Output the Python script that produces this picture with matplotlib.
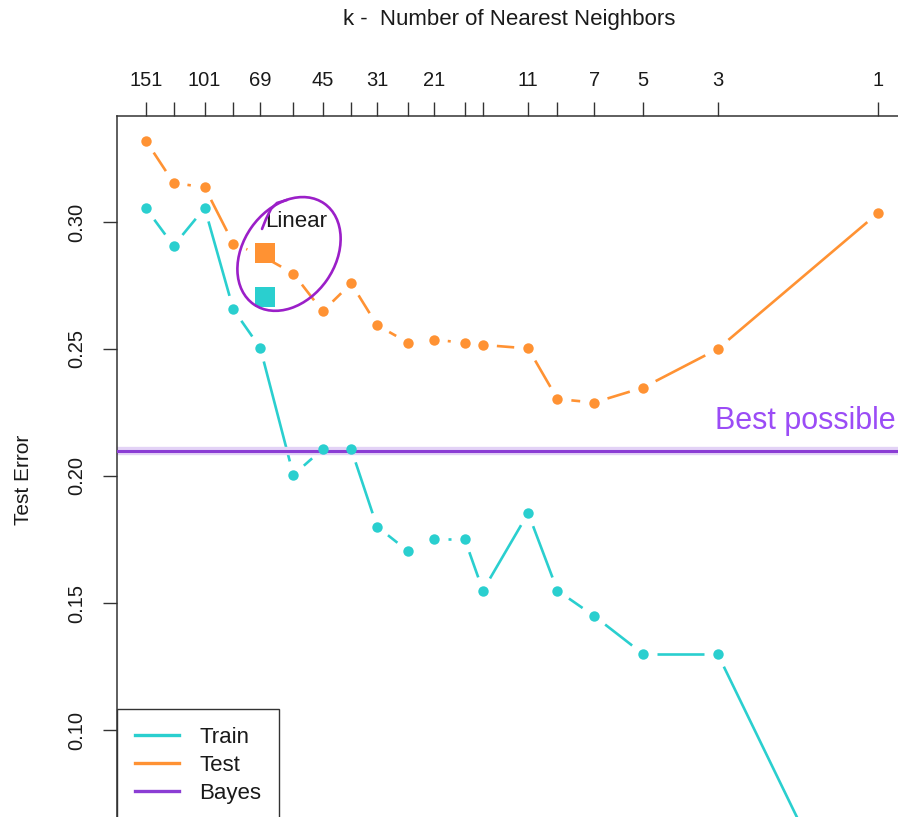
import numpy as np
import matplotlib
matplotlib.use('Agg')
import matplotlib.pyplot as plt
from matplotlib.collections import LineCollection
from matplotlib.lines import Line2D
from matplotlib.patches import Ellipse
from matplotlib.transforms import IdentityTransform, ScaledTranslation
from matplotlib.ticker import NullLocator

plt.rcParams['font.family'] = ['Liberation Sans', 'DejaVu Sans']

# data
N = 200
k_vals = [151, 125, 101, 83, 69, 55, 45, 37, 31, 25, 21, 17, 15, 11, 9, 7, 5, 3, 1]
k_shown = [151, 101, 69, 45, 31, 21, 11, 7, 5, 3, 1]
test_err = [0.3319, 0.3154, 0.3136, 0.2915, 0.2870, 0.2797, 0.2648, 0.2758, 0.2594,
            0.2524, 0.2537, 0.2524, 0.2516, 0.2502, 0.2303, 0.2289, 0.2348, 0.2500, 0.3035]
train_err = [0.3053, 0.2906, 0.3055, 0.2656, 0.2504, 0.2004, 0.2106, 0.2106, 0.1801,
             0.1703, 0.1752, 0.1752, 0.1549, 0.1854, 0.1549, 0.1449, 0.1299, 0.1299, 0.0]
bayes_err = 0.21
linear_dof = 3
linear_test = 0.2878
linear_train = 0.2703
y_ticks = [0.10, 0.15, 0.20, 0.25, 0.30]

c_train = '#2ACFCF'
c_test = '#FF9233'
c_bayes = '#8B3DD4'
c_mark = '#9B1FC8'
c_text = '#1a1a1a'

fig = plt.figure(figsize=(8.98, 8.17), dpi=100)
ax = fig.add_axes([117/898, -5/817, 790/898, 706/817])
ax.set_xscale('log')
ax.set_xlim(1.0857, 243.98)
ax.set_ylim(0.0638, 0.3417)

dof = N / np.array(k_vals, dtype=float)


def gapped(ax, x, y, color, gap=14, lw=1.9):
    # lines that stop short of the points, like R's type="b"
    pts = ax.transData.transform(np.column_stack([x, y]))
    segs = []
    for p0, p1 in zip(pts[:-1], pts[1:]):
        d = p1 - p0
        L = np.hypot(d[0], d[1])
        if L > 2 * gap + 1:
            u = d / L
            segs.append([p0 + u * gap, p1 - u * gap])
    lc = LineCollection(segs, colors=color, linewidths=lw,
                        transform=IdentityTransform(), zorder=2, capstyle='butt')
    ax.add_collection(lc, autolim=False)


ax.axhline(bayes_err, color='#E3D3F6', lw=6, zorder=2.5)
ax.axhline(bayes_err, color=c_bayes, lw=2.2, zorder=2.6)

gapped(ax, dof, test_err, c_test)
gapped(ax, dof, train_err, c_train)
ax.plot(dof, test_err, 'o', color=c_test, ms=7.5, mew=0, zorder=3)
ax.plot(dof, train_err, 'o', color=c_train, ms=7.5, mew=0, zorder=3)

ax.plot([linear_dof], [linear_test], 's', color=c_test, ms=14.5, mew=0, zorder=4)
ax.plot([linear_dof], [linear_train], 's', color=c_train, ms=14.5, mew=0, zorder=4)
ax.text(linear_dof, 0.30, 'Linear', fontsize=16, ha='left', va='center',
        color=c_text, zorder=5)

# hand-drawn circle round the linear points
trans = fig.dpi_scale_trans + ScaledTranslation(3.53, 0.2874, ax.transData)
ax.add_patch(Ellipse((0, 0), 1.23, 0.92, angle=55, fill=False, ec=c_mark,
                     lw=1.9, transform=trans, zorder=6))
ax.plot([-0.27, -0.23, -0.18, -0.12, -0.02], [0.25, 0.35, 0.45, 0.51, 0.54],
        color=c_mark, lw=1.9, transform=trans, zorder=6, solid_capstyle='round')

# axes
ax.xaxis.tick_top()
ax.set_xticks(dof)
ax.set_xticklabels([str(k) if k in k_shown else '' for k in k_vals])
ax.xaxis.set_minor_locator(NullLocator())
ax.set_yticks(y_ticks)
ax.set_yticklabels(['%.2f' % v for v in y_ticks])
for lab in ax.get_yticklabels():
    lab.set_rotation(90)
    lab.set_va('center')
ax.tick_params(axis='x', length=10, width=1, color='#333333', pad=9,
               labelsize=14.5, labelcolor=c_text)
ax.tick_params(axis='y', length=10, width=1, color='#333333', pad=12,
               labelsize=14.5, labelcolor=c_text)
for s in ('right', 'bottom'):
    ax.spines[s].set_visible(False)
for s in ('left', 'top'):
    ax.spines[s].set_color('#333333')
    ax.spines[s].set_linewidth(1.1)

ax.set_ylabel('Test Error', fontsize=15, color=c_text)
ax.yaxis.set_label_coords(-0.106, 0.484)

fig.text(509/898, 1 - 19/817, 'k -  Number of Nearest Neighbors', ha='center',
         va='center', fontsize=16, color=c_text)
fig.text(896/898, 1 - 429/817, 'Best possible', ha='right', va='baseline',
         fontsize=22, color='#9B4CF6')

handles = [Line2D([], [], color=c_train, lw=2.4),
           Line2D([], [], color=c_test, lw=2.4),
           Line2D([], [], color=c_bayes, lw=2.4)]
leg = ax.legend(handles, ['Train', 'Test', 'Bayes'], loc='lower left',
                borderaxespad=0, fancybox=False, edgecolor='#333333',
                framealpha=1, fontsize=16, handlelength=2.0, handletextpad=0.9,
                borderpad=0.8, labelspacing=0.33)
leg.get_frame().set_linewidth(1.0)
for t in leg.get_texts():
    t.set_color(c_text)

fig.savefig('out.png', dpi=100)
